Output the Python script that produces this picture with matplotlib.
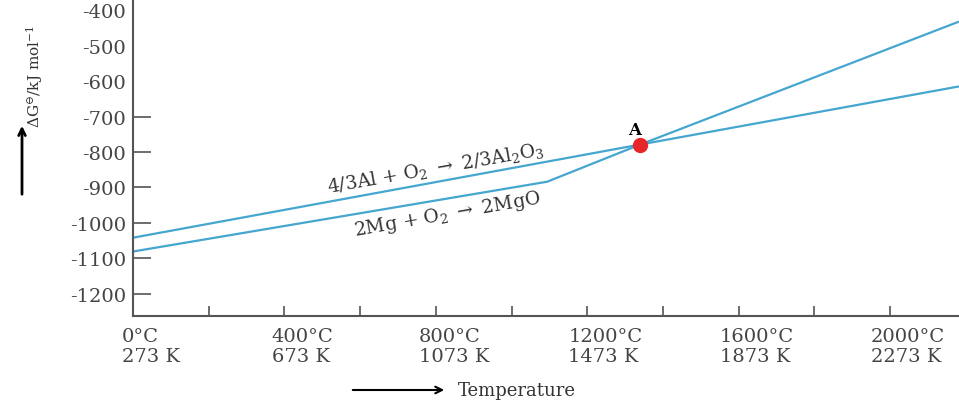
import matplotlib.pyplot as plt
from matplotlib.patches import FancyArrowPatch
from matplotlib.transforms import ScaledTranslation

plt.rcParams['font.family'] = ['DejaVu Serif']
plt.rcParams['mathtext.fontset'] = 'dejavuserif'

# datos (temperatura en °C, energia libre en kJ/mol)
temp_al = [0, 1340, 2182]
dg_al = [-1042, -779, -615]
temp_mg = [0, 1094, 1340, 2182]
dg_mg = [-1081, -884, -779, -432]
punto_a = (1340, -779)

yticks = [-400, -500, -600, -700, -800, -900, -1000, -1100, -1200]
yticks_marca = [-700, -800, -900, -1000, -1100, -1200]
xticks = [0, 400, 800, 1200, 1600, 2000]
xlabels = ['0°C\n273 K', '400°C\n673 K', '800°C\n1073 K',
           '1200°C\n1473 K', '1600°C\n1873 K', '2000°C\n2273 K']
xticks_marca = [200, 400, 600, 800, 1000, 1200, 1400, 1600, 1800, 2000]

color_linea = '#45a6cf'
gris = '#555555'

fig = plt.figure(figsize=(9.59, 4.02), dpi=100)
ax = fig.add_axes([133/959, 85/402, 826/959, 327/402])
ax.set_xlim(0, 2182)
ax.set_ylim(-1263, -340)

for s in ['top', 'right']:
    ax.spines[s].set_visible(False)
for s in ['left', 'bottom']:
    ax.spines[s].set_color(gris)
    ax.spines[s].set_linewidth(1.5)

# lineas de Ellingham
ax.plot(temp_al, dg_al, color=color_linea, lw=1.6, solid_capstyle='butt')
ax.plot(temp_mg, dg_mg, color=color_linea, lw=1.6, solid_capstyle='butt')
ax.plot(*punto_a, 'o', color='#e8262a', markersize=10, zorder=5)
ax.annotate('A', punto_a, xytext=(-4, 5), textcoords='offset points',
            ha='center', va='bottom', fontsize=12, fontweight='bold')

ax.text(800, -845, r'4/3Al + O$_2$ $\rightarrow$ 2/3Al$_2$O$_3$', rotation=10,
        ha='center', va='center', fontsize=13.5, color='#333333')
ax.text(830, -975, r'2Mg + O$_2$ $\rightarrow$ 2MgO', rotation=10,
        ha='center', va='center', fontsize=13.5, color='#333333')

# eje y
ax.yaxis.remove_overlapping_locs = False
ax.set_yticks(yticks)
ax.set_yticklabels([str(v) for v in yticks])
ax.set_yticks(yticks_marca, minor=True)
ax.tick_params(axis='y', which='major', length=0, pad=5, labelsize=14, labelcolor='#444444')
ax.tick_params(axis='y', which='minor', direction='in', length=13, width=1.2, color=gris)

# eje x
ax.xaxis.remove_overlapping_locs = False
ax.set_xticks(xticks)
ax.set_xticklabels(xlabels)
ax.set_xticks(xticks_marca, minor=True)
ax.tick_params(axis='x', which='major', length=0, pad=8, labelsize=14, labelcolor='#444444')
ax.tick_params(axis='x', which='minor', direction='in', length=7, width=1.2, color=gris)
desplazar = ScaledTranslation(18/100, 0, fig.dpi_scale_trans)
for lbl in ax.get_xticklabels():
    lbl.set_multialignment('left')
    lbl.set_linespacing(1.15)
    lbl.set_transform(lbl.get_transform() + desplazar)

# etiquetas con flechas
fig.text(35/959, 1 - 77/402, r'$\mathrm{\Delta G^{\ominus}}$/kJ mol$^{-1}$', rotation=90,
         ha='center', va='center', fontsize=11, color='#333333')
fig.add_artist(FancyArrowPatch(
    (22/959, 1 - 198/402), (22/959, 1 - 124/402), transform=fig.transFigure,
    arrowstyle='->', mutation_scale=12, lw=2, color='black'))
fig.add_artist(FancyArrowPatch(
    (350/959, 1 - 391/402), (447/959, 1 - 391/402), transform=fig.transFigure,
    arrowstyle='->', mutation_scale=12, lw=1.5, color='black'))
fig.text(458/959, 1 - 391/402, 'Temperature', ha='left', va='center',
         fontsize=13, color='#333333')

fig.savefig('out.png', dpi=100)
